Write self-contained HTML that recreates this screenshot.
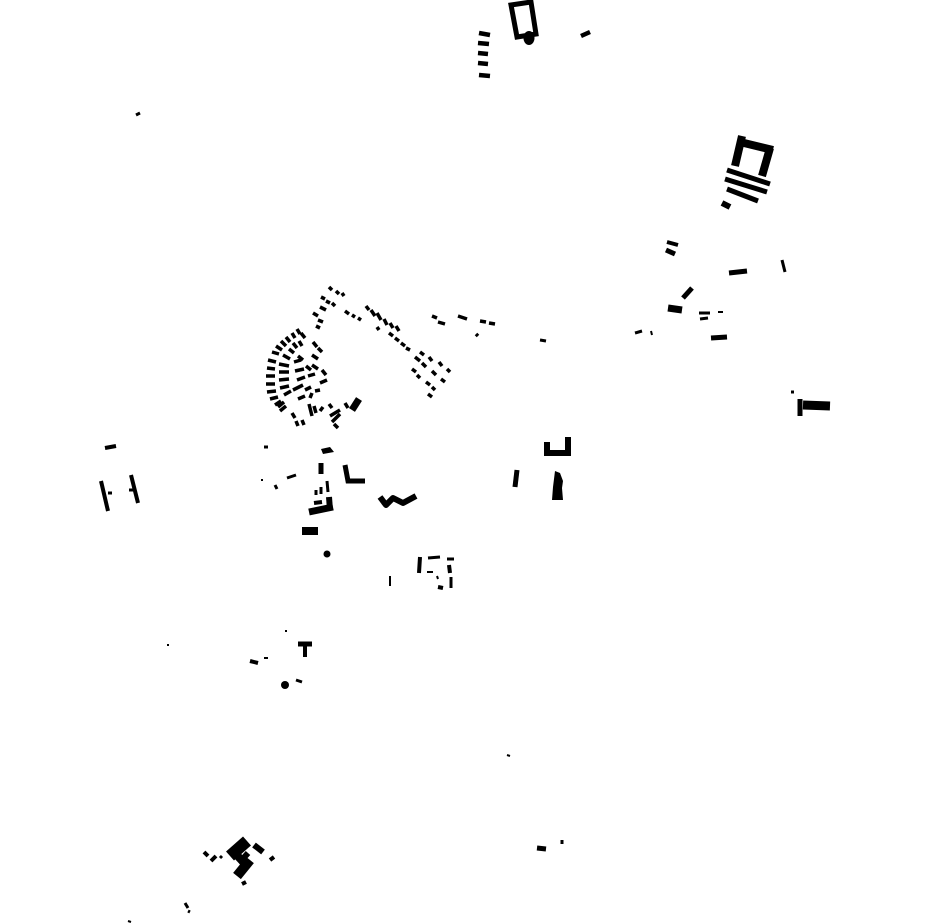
<!DOCTYPE html>
<html><head><meta charset="utf-8"><style>
html,body{margin:0;padding:0;background:#fff;}
svg{display:block}
</style></head><body>
<svg width="930" height="924" viewBox="0 0 930 924" xmlns="http://www.w3.org/2000/svg">
<g stroke="#000" stroke-linecap="butt" fill="none">
<polygon points="511,5 531,2 536,34 517,37" stroke-width="5"/>
<g stroke-width="4.5">
<line x1="479" y1="33" x2="490" y2="35"/>
<line x1="478" y1="43" x2="489" y2="44"/>
<line x1="478" y1="53" x2="488" y2="54"/>
<line x1="478" y1="63" x2="488" y2="64"/>
<line x1="479" y1="75" x2="490" y2="76"/>
<line x1="581" y1="36" x2="590" y2="32"/>
</g>
<g stroke-width="8">
<line x1="742" y1="136" x2="735" y2="166"/>
<line x1="744" y1="143" x2="773" y2="150"/>
<line x1="770" y1="148" x2="762" y2="176"/>
</g>
<g stroke-width="5">
<line x1="727" y1="170" x2="770" y2="184"/>
<line x1="725" y1="179" x2="767" y2="192"/>
<line x1="727" y1="189" x2="758" y2="201"/>
<line x1="722" y1="203" x2="730" y2="207" stroke-width="6"/>
<line x1="667" y1="242" x2="678" y2="245" stroke-width="4"/>
<line x1="666" y1="250" x2="675" y2="254"/>
<line x1="729" y1="273" x2="747" y2="271"/>
<line x1="782" y1="260" x2="785" y2="272" stroke-width="3"/>
<line x1="683" y1="298" x2="692" y2="288"/>
<line x1="668" y1="308" x2="682" y2="310" stroke-width="7"/>
<line x1="699" y1="313" x2="710" y2="313" stroke-width="3"/>
<line x1="700" y1="319" x2="708" y2="318" stroke-width="3"/>
<line x1="718" y1="312" x2="723" y2="312" stroke-width="2"/>
<line x1="711" y1="338" x2="727" y2="337"/>
<line x1="635" y1="333" x2="642" y2="331" stroke-width="3"/>
<line x1="651" y1="331" x2="652" y2="335" stroke-width="2"/>
<line x1="803" y1="405" x2="830" y2="406" stroke-width="9"/>
<line x1="800" y1="399" x2="800" y2="416" stroke-width="5"/>
<line x1="791" y1="392" x2="794" y2="392" stroke-width="3"/>
<line x1="540" y1="340" x2="546" y2="341" stroke-width="3"/>
</g>
<g stroke-width="3.5">
<line x1="272" y1="352" x2="279" y2="354"/>
<line x1="268" y1="360" x2="276" y2="362"/>
<line x1="267" y1="368" x2="275" y2="369"/>
<line x1="266" y1="376" x2="275" y2="376"/>
<line x1="266" y1="384" x2="275" y2="384"/>
<line x1="267" y1="392" x2="276" y2="391"/>
<line x1="270" y1="399" x2="278" y2="397"/>
<line x1="275" y1="405" x2="281" y2="401"/>
<line x1="280" y1="411" x2="286" y2="406"/>
<line x1="276" y1="346" x2="282" y2="350"/>
<line x1="281" y1="341" x2="286" y2="346"/>
<line x1="286" y1="337" x2="290" y2="342"/>
<line x1="292" y1="333" x2="295" y2="338"/>
<line x1="297" y1="329" x2="300" y2="334"/>
<line x1="283" y1="355" x2="290" y2="359"/>
<line x1="279" y1="364" x2="289" y2="366"/>
<line x1="279" y1="372" x2="289" y2="372"/>
<line x1="279" y1="380" x2="289" y2="379"/>
<line x1="280" y1="388" x2="289" y2="386"/>
<line x1="284" y1="395" x2="291" y2="391"/>
<line x1="289" y1="349" x2="294" y2="353"/>
<line x1="293" y1="343" x2="297" y2="348"/>
<line x1="299" y1="341" x2="302" y2="346"/>
<line x1="301" y1="333" x2="305" y2="338"/>
<line x1="294" y1="362" x2="301" y2="360"/>
<line x1="298" y1="356" x2="303" y2="360"/>
<line x1="313" y1="342" x2="317" y2="347"/>
<line x1="318" y1="348" x2="322" y2="352"/>
<line x1="312" y1="355" x2="318" y2="359"/>
<line x1="295" y1="371" x2="304" y2="369"/>
<line x1="306" y1="366" x2="311" y2="370"/>
<line x1="312" y1="365" x2="318" y2="369"/>
<line x1="297" y1="380" x2="305" y2="377"/>
<line x1="308" y1="376" x2="315" y2="374"/>
<line x1="322" y1="370" x2="326" y2="375"/>
<line x1="320" y1="383" x2="327" y2="380"/>
<line x1="293" y1="390" x2="303" y2="385"/>
<line x1="305" y1="390" x2="311" y2="387"/>
<line x1="315" y1="391" x2="320" y2="390"/>
<line x1="298" y1="399" x2="305" y2="396"/>
<line x1="310" y1="398" x2="312" y2="393"/>
<line x1="278" y1="407" x2="284" y2="402"/>
<line x1="292" y1="413" x2="295" y2="418"/>
<line x1="296" y1="421" x2="298" y2="426"/>
<line x1="302" y1="420" x2="304" y2="425"/>
<line x1="309" y1="404" x2="312" y2="416"/>
<line x1="314" y1="406" x2="316" y2="413"/>
<line x1="320" y1="411" x2="323" y2="407"/>
<line x1="329" y1="404" x2="332" y2="408"/>
<line x1="330" y1="416" x2="340" y2="410"/>
<line x1="332" y1="422" x2="340" y2="414"/>
<line x1="334" y1="424" x2="338" y2="428"/>
<line x1="345" y1="403" x2="348" y2="408"/>
<line x1="329" y1="287" x2="332" y2="290"/>
<line x1="336" y1="291" x2="339" y2="294"/>
<line x1="342" y1="293" x2="344" y2="296"/>
<line x1="321" y1="297" x2="325" y2="299"/>
<line x1="326" y1="301" x2="330" y2="303"/>
<line x1="332" y1="303" x2="335" y2="306"/>
<line x1="320" y1="307" x2="326" y2="310"/>
<line x1="313" y1="313" x2="318" y2="316"/>
<line x1="318" y1="320" x2="323" y2="322"/>
<line x1="316" y1="326" x2="320" y2="328"/>
<line x1="345" y1="311" x2="349" y2="314"/>
<line x1="352" y1="315" x2="355" y2="317"/>
<line x1="358" y1="318" x2="361" y2="320"/>
<line x1="366" y1="306" x2="369" y2="310"/>
<line x1="371" y1="310" x2="375" y2="316"/>
<line x1="377" y1="313" x2="381" y2="320"/>
<line x1="384" y1="319" x2="387" y2="325"/>
<line x1="390" y1="323" x2="393" y2="328"/>
<line x1="396" y1="326" x2="399" y2="331"/>
<line x1="377" y1="327" x2="379" y2="330"/>
<line x1="389" y1="333" x2="393" y2="336"/>
<line x1="395" y1="338" x2="399" y2="341"/>
<line x1="401" y1="343" x2="405" y2="346"/>
<line x1="406" y1="348" x2="410" y2="350"/>
<line x1="415" y1="357" x2="420" y2="361"/>
<line x1="420" y1="352" x2="424" y2="355"/>
<line x1="422" y1="363" x2="426" y2="367"/>
<line x1="429" y1="357" x2="432" y2="361"/>
<line x1="432" y1="371" x2="436" y2="375"/>
<line x1="439" y1="362" x2="442" y2="366"/>
<line x1="441" y1="379" x2="445" y2="382"/>
<line x1="447" y1="369" x2="450" y2="372"/>
<line x1="412" y1="369" x2="416" y2="372"/>
<line x1="417" y1="375" x2="420" y2="378"/>
<line x1="426" y1="382" x2="430" y2="385"/>
<line x1="432" y1="387" x2="435" y2="390"/>
<line x1="428" y1="394" x2="432" y2="397"/>
<line x1="432" y1="316" x2="437" y2="318"/>
<line x1="438" y1="322" x2="445" y2="324"/>
<line x1="458" y1="316" x2="467" y2="319"/>
<line x1="480" y1="321" x2="486" y2="322"/>
<line x1="489" y1="323" x2="495" y2="324"/>
<line x1="476" y1="334" x2="478" y2="336"/>
</g>
<line x1="359" y1="399" x2="352" y2="410" stroke-width="7"/>
<g stroke-width="5">
<line x1="321" y1="463" x2="321" y2="474"/>
<polyline points="345,465 348,481 365,481"/>
<line x1="287" y1="478" x2="296" y2="475" stroke-width="3"/>
<line x1="275" y1="485" x2="277" y2="489" stroke-width="3"/>
<line x1="316" y1="490" x2="316" y2="495" stroke-width="3"/>
<line x1="321" y1="487" x2="321" y2="494" stroke-width="3"/>
<line x1="327" y1="481" x2="328" y2="492" stroke-width="3"/>
<line x1="329" y1="497" x2="330" y2="510" stroke-width="6"/>
<line x1="309" y1="512" x2="333" y2="507" stroke-width="7"/>
<line x1="314" y1="503" x2="322" y2="502" stroke-width="4"/>
<polyline points="380,497 386,505 393,498 403,503 416,496" stroke-width="6" stroke-linejoin="round"/>
<line x1="390" y1="576" x2="390" y2="586" stroke-width="2"/>
<line x1="420" y1="557" x2="419" y2="573" stroke-width="4"/>
<line x1="428" y1="558" x2="440" y2="557" stroke-width="3"/>
<line x1="447" y1="559" x2="454" y2="559" stroke-width="3"/>
<line x1="449" y1="565" x2="450" y2="573" stroke-width="4"/>
<line x1="427" y1="572" x2="433" y2="572" stroke-width="2"/>
<line x1="438" y1="587" x2="443" y2="588" stroke-width="4"/>
<line x1="451" y1="577" x2="451" y2="588" stroke-width="3"/>
<line x1="437" y1="576" x2="438" y2="579" stroke-width="2"/>
<polyline points="547,442 547,453 568,453 568,437" stroke-width="6"/>
<line x1="517" y1="470" x2="515" y2="487" stroke-width="5"/>
<line x1="105" y1="448" x2="116" y2="446" stroke-width="4"/>
<line x1="101" y1="481" x2="108" y2="511" stroke-width="4"/>
<line x1="131" y1="475" x2="138" y2="503" stroke-width="4"/>
<line x1="108" y1="493" x2="112" y2="493" stroke-width="3"/>
<line x1="129" y1="490" x2="133" y2="490" stroke-width="3"/>
<line x1="264" y1="447" x2="268" y2="447" stroke-width="3"/>
<line x1="261" y1="480" x2="263" y2="480" stroke-width="2"/>
<line x1="136" y1="115" x2="140" y2="113" stroke-width="3"/>
<line x1="298" y1="644" x2="312" y2="644" stroke-width="5"/>
<line x1="305" y1="644" x2="305" y2="657" stroke-width="4"/>
<line x1="250" y1="661" x2="258" y2="663" stroke-width="4"/>
<line x1="264" y1="658" x2="268" y2="658" stroke-width="2"/>
<line x1="296" y1="680" x2="302" y2="682" stroke-width="3"/>
<line x1="285" y1="631" x2="287" y2="631" stroke-width="2"/>
<line x1="167" y1="645" x2="169" y2="645" stroke-width="2"/>
<line x1="507" y1="755" x2="510" y2="756" stroke-width="2"/>
<line x1="537" y1="848" x2="546" y2="849" stroke-width="5"/>
<line x1="562" y1="840" x2="562" y2="844" stroke-width="3"/>
<line x1="230" y1="856" x2="247" y2="841" stroke-width="12"/>
<line x1="237" y1="876" x2="250" y2="860" stroke-width="10"/>
<line x1="240" y1="862" x2="248" y2="853" stroke-width="6"/>
<line x1="234" y1="852" x2="245" y2="864" stroke-width="8"/>
<line x1="254" y1="845" x2="263" y2="852" stroke-width="6"/>
<line x1="204" y1="852" x2="208" y2="856" stroke-width="4"/>
<line x1="211" y1="861" x2="216" y2="856" stroke-width="4"/>
<line x1="220" y1="858" x2="222" y2="856" stroke-width="3"/>
<line x1="270" y1="860" x2="274" y2="857" stroke-width="4"/>
<line x1="242" y1="884" x2="246" y2="882" stroke-width="4"/>
<line x1="185" y1="903" x2="188" y2="908" stroke-width="3"/>
<line x1="188" y1="911" x2="190" y2="912" stroke-width="3"/>
<line x1="128" y1="921" x2="131" y2="922" stroke-width="2"/>
</g>
<g fill="#000" stroke="none">
<ellipse cx="529" cy="38" rx="5.5" ry="7"/>
<path d="M321,449 L330,447 L334,452 L323,454 Z"/>
<rect x="302" y="527" width="16" height="8"/>
<circle cx="327" cy="554" r="3.5"/>
<path d="M555,471 L560,473 L563,481 L562,488 L563,500 L552,500 L553,487 Z"/>
<circle cx="285" cy="685" r="4"/>
</g>
</g>
</svg>
</body></html>
